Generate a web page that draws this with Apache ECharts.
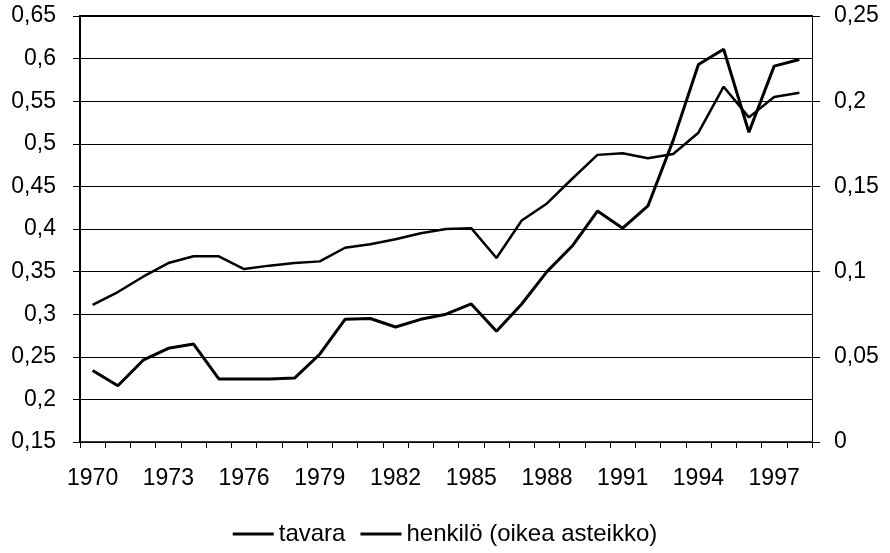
<!DOCTYPE html>
<html>
<head>
<meta charset="utf-8">
<script src="https://cdn.jsdelivr.net/npm/echarts@6/dist/echarts.min.js"></script>
<style>
  html, body { margin: 0; padding: 0; background: #fff; }
  #chart { width: 890px; height: 553px; }
</style>
</head>
<body>
<div id="chart"></div>
<script>
var years = [];
for (var y = 1970; y <= 1998; y++) years.push(String(y));

// left axis
var tavara = [0.311, 0.326, 0.344, 0.36, 0.368, 0.368, 0.353, 0.357, 0.36, 0.362,
  0.378, 0.382, 0.388, 0.395, 0.4, 0.401, 0.366, 0.41, 0.43, 0.459,
  0.487, 0.489, 0.483, 0.488, 0.513, 0.567, 0.531, 0.555, 0.56];

// right axis
var henkilo = [0.042, 0.033, 0.048, 0.055, 0.0575, 0.037, 0.037, 0.037, 0.0375, 0.0515,
  0.072, 0.0725, 0.0675, 0.072, 0.075, 0.081, 0.065, 0.081, 0.1, 0.115,
  0.1355, 0.1255, 0.1385, 0.177, 0.2215, 0.2305, 0.1818, 0.2206, 0.2245];

var font = 'Liberation Sans, Arial, sans-serif';

function fmt(v) {
  return String(parseFloat(v.toFixed(3))).replace('.', ',');
}

var chart = echarts.init(document.getElementById('chart'));

chart.setOption({
  animation: false,
  grid: { left: 80, right: 78, top: 16, bottom: 111 },
  legend: {
    top: 517,
    left: 'center',
    itemWidth: 41,
    itemHeight: 3,
    itemGap: 15,
    icon: 'rect',
    textStyle: { fontFamily: font, fontSize: 24, color: '#000' },
    data: ['tavara', 'henkilö (oikea asteikko)']
  },
  xAxis: [{
    type: 'category',
    data: years,
    boundaryGap: true,
    axisLine: { lineStyle: { color: '#000', width: 1.5 } },
    axisTick: { show: true, interval: 0, length: 6, lineStyle: { color: '#000' } },
    axisLabel: { interval: 2, margin: 25, fontFamily: font, fontSize: 23, color: '#000' }
  }, {
    // top frame line
    type: 'category',
    data: years,
    position: 'top',
    axisLine: { lineStyle: { color: '#000', width: 2 } },
    axisTick: { show: false },
    axisLabel: { show: false }
  }],
  yAxis: [{
    type: 'value',
    min: 0.15,
    max: 0.65,
    interval: 0.05,
    position: 'left',
    axisLine: { show: true, lineStyle: { color: '#000', width: 2 } },
    axisTick: { show: true, length: 7, lineStyle: { color: '#000' } },
    splitLine: { show: true, lineStyle: { color: '#000', width: 1 } },
    axisLabel: { margin: 24, fontFamily: font, fontSize: 23, color: '#000', formatter: fmt }
  }, {
    type: 'value',
    min: 0,
    max: 0.25,
    interval: 0.05,
    position: 'right',
    axisLine: { show: true, lineStyle: { color: '#000', width: 1 } },
    axisTick: { show: true, length: 8, lineStyle: { color: '#000' } },
    splitLine: { show: false },
    axisLabel: { margin: 22, fontFamily: font, fontSize: 23, color: '#000', formatter: fmt }
  }],
  series: [{
    name: 'tavara',
    type: 'line',
    yAxisIndex: 0,
    data: tavara,
    symbol: 'none',
    color: '#000',
    lineStyle: { color: '#000', width: 2.5 }
  }, {
    name: 'henkilö (oikea asteikko)',
    type: 'line',
    yAxisIndex: 1,
    data: henkilo,
    symbol: 'none',
    color: '#000',
    lineStyle: { color: '#000', width: 3 }
  }]
});
</script>
</body>
</html>
